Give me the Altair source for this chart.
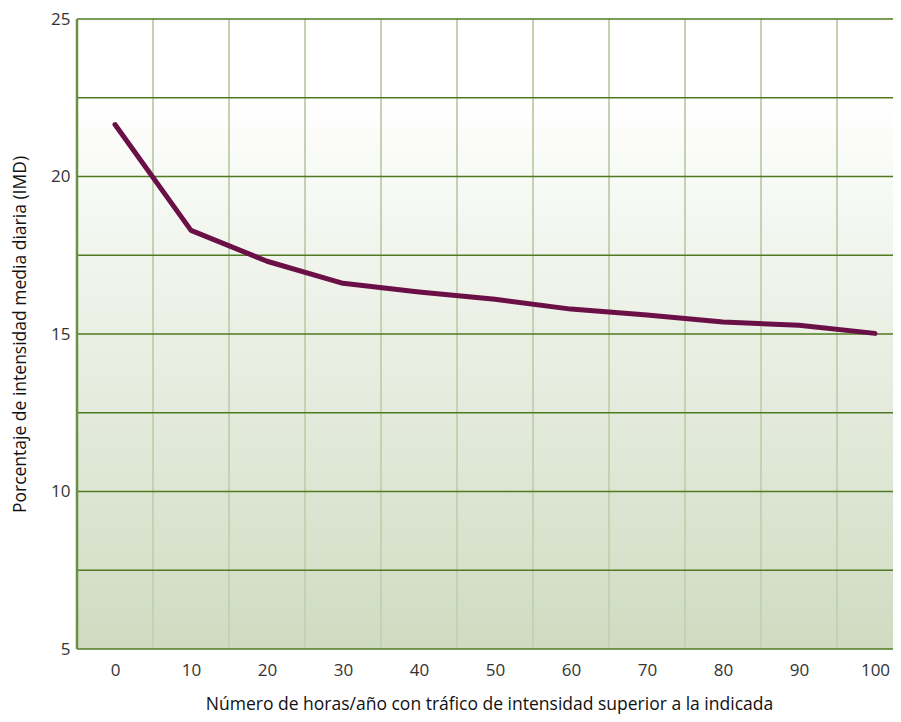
import altair as alt
import pandas as pd

hours = [0, 10, 20, 30, 40, 50, 60, 70, 80, 90, 100]
pct = [21.65, 18.29, 17.31, 16.61, 16.33, 16.10, 15.79, 15.60, 15.38, 15.28, 15.02]
hgrid = [5, 7.5, 10, 12.5, 15, 17.5, 20, 22.5, 25]
vgrid = [5, 15, 25, 35, 45, 55, 65, 75, 85, 95]
yticks = [5, 10, 15, 20, 25]
xticks = [0, 10, 20, 30, 40, 50, 60, 70, 80, 90, 100]

FONT = "Open Sans"
xs = alt.Scale(domain=[-5, 102.37], nice=False, zero=False)
ys = alt.Scale(domain=[5, 25], nice=False, zero=False)

xaxis = alt.Axis(
    values=xticks, title="Número de horas/año con tráfico de intensidad superior a la indicada",
    grid=False, domain=False, ticks=False, labelFontSize=17, labelPadding=13,
    titleFontSize=17.5, titleFontWeight="normal", titlePadding=17, titleX=412,
    labelColor="#333333", titleColor="#111111", labelFont=FONT, titleFont=FONT,
)
yaxis = alt.Axis(
    values=yticks, title="Porcentaje de intensidad media diaria (IMD)",
    grid=False, domain=False, ticks=False, labelFontSize=17, labelPadding=7,
    titleFontSize=17.5, titleFontWeight="normal", titlePadding=21,
    labelColor="#333333", titleColor="#111111", labelFont=FONT, titleFont=FONT,
    labelBaseline="middle",
)

line_df = pd.DataFrame({"h": hours, "p": pct})

bg = alt.Chart(pd.DataFrame({"a": [0]})).mark_rect(
    fill=alt.Gradient(
        gradient="linear",
        stops=[
            alt.GradientStop(color="#ffffff", offset=0),
            alt.GradientStop(color="#ffffff", offset=0.12),
            alt.GradientStop(color="#cfdbc1", offset=1),
        ],
        x1=0, x2=0, y1=0, y2=1,
    )
).encode(x=alt.value(0), x2=alt.value("width"), y=alt.value(0), y2=alt.value("height"))

vr = alt.Chart(pd.DataFrame({"v": vgrid})).mark_rule(color="#c3d3b1", strokeWidth=2).encode(
    x=alt.X("v:Q", scale=xs, axis=xaxis)
)

hr = alt.Chart(pd.DataFrame({"v": hgrid})).mark_rule(color="#4f7a22", strokeWidth=1.5).encode(
    y=alt.Y("v:Q", scale=ys, axis=yaxis)
)

left = alt.Chart(pd.DataFrame({"v": [-5]})).mark_rule(color="#6a8f45", strokeWidth=2.5).encode(
    x=alt.X("v:Q", scale=xs, axis=xaxis)
)

line = alt.Chart(line_df).mark_line(color="#6b0f47", strokeWidth=5, strokeCap="round", strokeJoin="round").encode(
    x=alt.X("h:Q", scale=xs, axis=xaxis),
    y=alt.Y("p:Q", scale=ys, axis=yaxis),
)

chart = alt.layer(bg, vr, hr, left, line).properties(
    width=816, height=630,
    autosize=alt.AutoSizeParams(type="none"),
    padding={"left": 69, "top": 11, "right": 0, "bottom": 65},
    background="#ffffff",
).configure_view(stroke=None)

chart.save("out.html", embed_options={"renderer": "svg", "actions": False})
